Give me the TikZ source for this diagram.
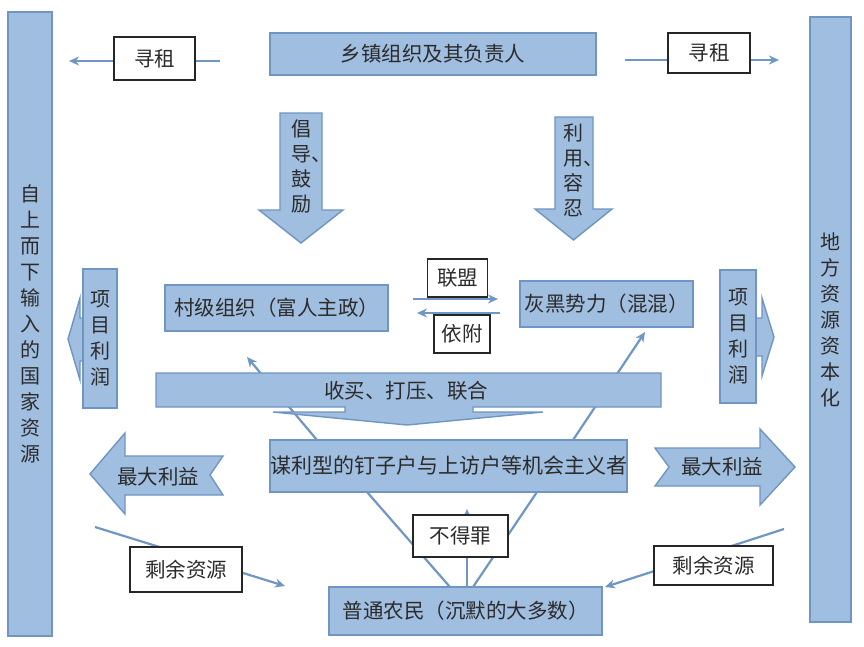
\documentclass[tikz,border=0pt]{standalone}
\usepackage{fontspec}
\newfontfamily\cjk{Noto Sans CJK SC}
\usetikzlibrary{arrows.meta}
\definecolor{boxfill}{HTML}{A0BEDF}
\definecolor{boxline}{HTML}{6F95C2}
\definecolor{conncol}{HTML}{7097C4}
\definecolor{txt}{HTML}{2B2B2B}
\pgfdeclarelayer{bg}
\pgfdeclarelayer{paper}
\pgfsetlayers{paper,bg,main}
\tikzset{
  every node/.style={font=\cjk\fontsize{20.5}{25}\selectfont, text=txt, inner sep=0pt},
  bluebox/.style={draw=boxline, fill=boxfill, line width=1.4pt},
  whitebox/.style={draw=black!85, fill=white, line width=1.3pt},
  blockarrow/.style={draw=boxline, fill=boxfill, line width=1.4pt, line join=miter},
  conn/.style={draw=conncol, line width=2.2pt, -{Stealth[length=10pt,width=9pt]}},
  plainconn/.style={draw=conncol, line width=2.2pt},
  vtext/.style={align=center, font=\cjk\fontsize{20}{26}\selectfont},
  atext/.style={align=center, font=\cjk\fontsize{20}{25}\selectfont},
}
\begin{document}
\begin{tikzpicture}[x=1pt,y=-1pt]
\begin{pgfonlayer}{paper}
\fill[white] (0,0) rectangle (864,646);
\end{pgfonlayer}
\useasboundingbox (0,0) rectangle (864,646);

% side bars
\node[bluebox, vtext, minimum width=44pt, minimum height=624pt] (lbar) at (30,324)
  {自\\上\\而\\下\\输\\入\\的\\国\\家\\资\\源};
\node[bluebox, vtext, minimum width=41pt, minimum height=605pt] (rbar) at (830.5,319.5)
  {地\\方\\资\\源\\资\\本\\化};

% top
\node[bluebox, minimum width=326pt, minimum height=42pt] (town) at (433,54) {乡镇组织及其负责人};
\node[whitebox, minimum width=81pt, minimum height=43pt] (xzL) at (154.5,58.5) {寻租};
\node[whitebox, minimum width=82pt, minimum height=40pt] (xzR) at (709,53) {寻租};

% down block arrows
\draw[blockarrow] (280,113) -- (322,113) -- (322,210) -- (343,210) -- (301,243) -- (259,210) -- (280,210) -- cycle;
\node[atext] (cd) at (301,166) {倡\\导\rlap{、}\\鼓\\励};
\draw[blockarrow] (555,117) -- (593,117) -- (593,209) -- (612,209) -- (573.5,240) -- (535,209) -- (555,209) -- cycle;
\node[atext] (ly) at (573,170) {利\\用\rlap{、}\\容\\忍};

% middle row
\node[bluebox, minimum width=223pt, minimum height=46pt] (village) at (276.5,308) {村级组织（富人主政）};
\node[bluebox, minimum width=173pt, minimum height=46pt] (gang) at (606.5,304) {灰黑势力（混混）};
\node[whitebox, minimum width=60pt, minimum height=38pt] (lm) at (457.5,278) {联盟};
\node[whitebox, minimum width=56pt, minimum height=38pt] (yf) at (462,334) {依附};

% project profit arrows
\draw[blockarrow] (100,318) -- (80,318) -- (80,298) -- (68,339) -- (80,380) -- (80,361) -- (100,361) -- cycle;
\node[bluebox, vtext, minimum width=34pt, minimum height=139pt] (xmL) at (100,338.5) {项\\目\\利\\润};
\draw[blockarrow] (738,318) -- (762,318) -- (762,298) -- (774,337) -- (762,376) -- (762,356) -- (738,356) -- cycle;
\node[bluebox, vtext, minimum width=36pt, minimum height=133pt] (xmR) at (738,336.5) {项\\目\\利\\润};

% buy / suppress / ally shape
\draw[blockarrow] (156,373) -- (661,373) -- (661,407) -- (473,407) -- (473,412) -- (543,412) -- (407,425)
  -- (273,412) -- (345,412) -- (345,407) -- (156,407) -- cycle;
\node (sm) at (406,391) {收买、打压、联合};

% opportunists
\node[bluebox, minimum width=357pt, minimum height=52pt, font=\cjk\fontsize{21}{25}\selectfont] (dzh) at (448.5,466) {谋利型的钉子户与上访户等机会主义者};

% max benefit arrows
\draw[blockarrow] (90,474) -- (125,433) -- (125,456) -- (223,456) -- (210,475) -- (223,495) -- (125,495) -- (125,514) -- cycle;
\node (maxL) at (158,477) {最大利益};
\draw[blockarrow] (655,448) -- (760,448) -- (760,429) -- (795,467) -- (760,505) -- (760,486) -- (655,486) -- (669,467) -- cycle;
\node (maxR) at (722,467) {最大利益};

% bottom
\node[whitebox, minimum width=95pt, minimum height=42pt] (bdz) at (460.5,536) {不得罪};
\node[bluebox, minimum width=273pt, minimum height=48pt] (pt) at (465.5,611) {普通农民（沉默的大多数）};
\node[whitebox, minimum width=112pt, minimum height=45pt] (syL) at (186,569.5) {剩余资源};
\node[whitebox, minimum width=119pt, minimum height=39pt] (syR) at (713.5,565.5) {剩余资源};

% connector end points
\coordinate (xzLs) at (220,61);  \coordinate (xzLe) at (69,61);
\coordinate (xzRs) at (625,60);  \coordinate (xzRe) at (779,60);
\coordinate (lmS) at (413,299);  \coordinate (lmE) at (498,299);
\coordinate (yfS) at (500,313);  \coordinate (yfE) at (417,313);
\coordinate (dzhA) at (317,440); \coordinate (vilT) at (247,357);
\coordinate (dzhB) at (573,440); \coordinate (gangT) at (645,332);
\coordinate (ptA) at (450,587);  \coordinate (dzhC) at (367,492);
\coordinate (ptB) at (467,587);  \coordinate (bdzT) at (467,509);
\coordinate (ptC) at (473,587);  \coordinate (dzhD) at (537,492);
\coordinate (syLs) at (95,527);  \coordinate (syLe) at (285,586);
\coordinate (syRs) at (784,529); \coordinate (syRe) at (605,587);

\begin{pgfonlayer}{bg}
  \draw[conn] (xzLs) -- (xzLe);
  \draw[conn] (xzRs) -- (xzRe);
  \draw[conn] (lmS) -- (lmE);
  \draw[conn] (yfS) -- (yfE);
  \draw[conn] (dzhA) -- (vilT);
  \draw[conn] (dzhB) -- (gangT);
  \draw[plainconn] (ptA) -- (dzhC);
  \draw[conn] (ptB) -- (bdzT);
  \draw[plainconn] (ptC) -- (dzhD);
  \draw[conn] (syLs) -- (syLe);
  \draw[conn] (syRs) -- (syRe);
\end{pgfonlayer}
\end{tikzpicture}
\end{document}
